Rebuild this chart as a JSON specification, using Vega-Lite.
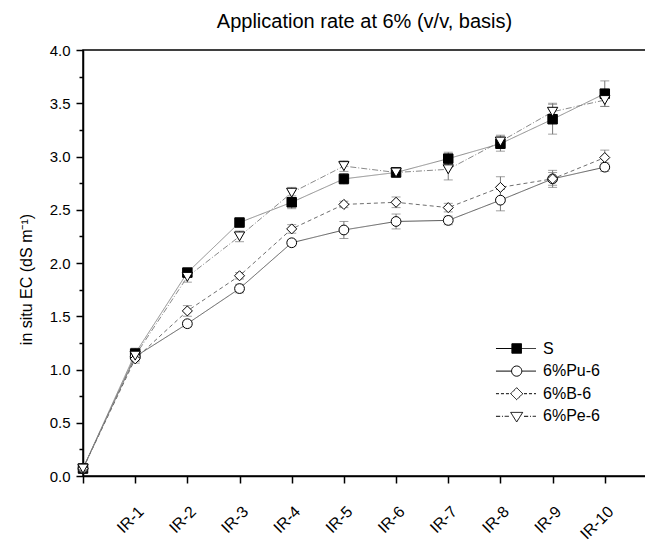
{
  "$schema": "https://vega.github.io/schema/vega-lite/v6.json",
  "width": 563,
  "height": 426,
  "autosize": {"type": "none"},
  "padding": {"left": 83, "top": 50, "right": 0, "bottom": 66},
  "background": "white",
  "config": {
    "font": "Liberation Sans",
    "view": {"stroke": "black", "strokeWidth": 1.5},
    "axis": {"grid": false, "domainColor": "black", "domainWidth": 1.5, "tickColor": "black", "tickWidth": 1.5, "labelColor": "black", "labelFont": "Liberation Sans", "titleFont": "Liberation Sans", "titleColor": "black", "titleFontWeight": "normal"}
  },
  "title": {"text": "Application rate at 6% (v/v, basis)", "fontSize": 20, "fontWeight": "normal", "font": "Liberation Sans", "color": "black", "anchor": "middle", "frame": "group", "baseline": "alphabetic", "offset": -5},
  "data": {"values": [
    {"step": 0, "series": "S", "value": 0.07, "err": 0.02},
    {"step": 1, "series": "S", "value": 1.15, "err": 0.05},
    {"step": 2, "series": "S", "value": 1.91, "err": 0.04},
    {"step": 3, "series": "S", "value": 2.38, "err": 0.03},
    {"step": 4, "series": "S", "value": 2.57, "err": 0.06},
    {"step": 5, "series": "S", "value": 2.79, "err": 0.05},
    {"step": 6, "series": "S", "value": 2.85, "err": 0.04},
    {"step": 7, "series": "S", "value": 2.98, "err": 0.06},
    {"step": 8, "series": "S", "value": 3.12, "err": 0.07},
    {"step": 9, "series": "S", "value": 3.35, "err": 0.14},
    {"step": 10, "series": "S", "value": 3.59, "err": 0.12},
    {"step": 0, "series": "6%Pu-6", "value": 0.07, "err": 0.02},
    {"step": 1, "series": "6%Pu-6", "value": 1.12, "err": 0.04},
    {"step": 2, "series": "6%Pu-6", "value": 1.43, "err": 0.03},
    {"step": 3, "series": "6%Pu-6", "value": 1.76, "err": 0.04},
    {"step": 4, "series": "6%Pu-6", "value": 2.19, "err": 0.03},
    {"step": 5, "series": "6%Pu-6", "value": 2.31, "err": 0.08},
    {"step": 6, "series": "6%Pu-6", "value": 2.39, "err": 0.07},
    {"step": 7, "series": "6%Pu-6", "value": 2.40, "err": 0.04},
    {"step": 8, "series": "6%Pu-6", "value": 2.59, "err": 0.10},
    {"step": 9, "series": "6%Pu-6", "value": 2.79, "err": 0.08},
    {"step": 10, "series": "6%Pu-6", "value": 2.90, "err": 0.04},
    {"step": 0, "series": "6%B-6", "value": 0.07, "err": 0.02},
    {"step": 1, "series": "6%B-6", "value": 1.10, "err": 0.04},
    {"step": 2, "series": "6%B-6", "value": 1.55, "err": 0.05},
    {"step": 3, "series": "6%B-6", "value": 1.88, "err": 0.03},
    {"step": 4, "series": "6%B-6", "value": 2.32, "err": 0.04},
    {"step": 5, "series": "6%B-6", "value": 2.55, "err": 0.03},
    {"step": 6, "series": "6%B-6", "value": 2.57, "err": 0.05},
    {"step": 7, "series": "6%B-6", "value": 2.52, "err": 0.04},
    {"step": 8, "series": "6%B-6", "value": 2.71, "err": 0.10},
    {"step": 9, "series": "6%B-6", "value": 2.79, "err": 0.06},
    {"step": 10, "series": "6%B-6", "value": 2.99, "err": 0.07},
    {"step": 0, "series": "6%Pe-6", "value": 0.07, "err": 0.02},
    {"step": 1, "series": "6%Pe-6", "value": 1.13, "err": 0.05},
    {"step": 2, "series": "6%Pe-6", "value": 1.87, "err": 0.05},
    {"step": 3, "series": "6%Pe-6", "value": 2.25, "err": 0.05},
    {"step": 4, "series": "6%Pe-6", "value": 2.66, "err": 0.05},
    {"step": 5, "series": "6%Pe-6", "value": 2.91, "err": 0.05},
    {"step": 6, "series": "6%Pe-6", "value": 2.85, "err": 0.04},
    {"step": 7, "series": "6%Pe-6", "value": 2.88, "err": 0.10},
    {"step": 8, "series": "6%Pe-6", "value": 3.14, "err": 0.06},
    {"step": 9, "series": "6%Pe-6", "value": 3.42, "err": 0.08},
    {"step": 10, "series": "6%Pe-6", "value": 3.53, "err": 0.06}
  ]},
  "encoding": {
    "x": {"field": "step", "type": "quantitative",
      "scale": {"domain": [0, 10.79], "nice": false, "zero": false},
      "axis": {"title": null, "values": [0,1,2,3,4,5,6,7,8,9,10], "labelExpr": "datum.value == 0 ? '' : 'IR-' + datum.value", "labelAngle": -45, "labelFontSize": 16, "tickSize": 7, "labelPadding": 20}},
    "y": {"field": "value", "type": "quantitative",
      "scale": {"domain": [0, 4], "nice": false},
      "axis": {"title": "in situ EC (dS m⁻¹)", "titleFontSize": 16, "titleX": -52, "titleY": 229, "titleAngle": -90, "titleAlign": "center", "titleBaseline": "alphabetic",
        "values": [0,0.25,0.5,0.75,1,1.25,1.5,1.75,2,2.25,2.5,2.75,3,3.25,3.5,3.75,4],
        "labelExpr": "round(datum.value*4)%2==0 ? format(datum.value,'.1f') : ''",
        "tickSize": {"condition": {"test": "round(datum.value*4)%2==0", "value": 7}, "value": 4},
        "labelFontSize": 15, "labelPadding": 6}}
  },
  "layer": [
    {
      "mark": {"type": "errorbar", "ticks": {"size": 9, "color": "#777777", "thickness": 1}, "rule": {"color": "#777777", "strokeWidth": 1}},
      "encoding": {"yError": {"field": "err"}}
    },
    {
      "mark": {"type": "line", "strokeWidth": 1},
      "encoding": {
        "color": {"field": "series", "type": "nominal", "legend": null, "scale": {"domain": ["S","6%Pu-6","6%B-6","6%Pe-6"], "range": ["#8c8c8c","#5a5a5a","#6e6e6e","#8a8a8a"]}},
        "strokeDash": {"field": "series", "type": "nominal", "legend": null, "scale": {"domain": ["S","6%Pu-6","6%B-6","6%Pe-6"], "range": [[1,0],[1,0],[4,3],[6,2,1,2]]}}
      }
    },
    {
      "mark": {"type": "point", "filled": true, "stroke": "black", "strokeWidth": 1},
      "encoding": {
        "shape": {"field": "series", "type": "nominal", "legend": null,
          "scale": {"domain": ["S","6%Pu-6","6%B-6","6%Pe-6"], "range": ["square","circle","diamond","triangle-down"]}},
        "fill": {"field": "series", "type": "nominal", "legend": null, "scale": {"domain": ["S","6%Pu-6","6%B-6","6%Pe-6"], "range": ["black","white","white","white"]}},
        "size": {"field": "series", "type": "nominal", "legend": null, "scale": {"domain": ["S","6%Pu-6","6%B-6","6%Pe-6"], "range": [90,106,135,135]}},
        "opacity": {"field": "series", "type": "nominal", "sort": ["S","6%Pu-6","6%B-6","6%Pe-6"], "scale": {"range": [1,1,1,1]},
          "legend": {"orient": "none", "legendX": 442, "legendY": 290.5, "title": null, "labelFontSize": 16, "labelColor": "black", "labelFont": "Liberation Sans", "symbolSize": 144, "labelOffset": 2, "rowPadding": 6.6, "symbolStrokeWidth": 1, "symbolOpacity": 1,
            "encoding": {"symbols": {
              "shape": {"value": {"expr": "datum.value === 'S' ? 'M-6.17,0H-3.52M-1.92,0H0.5M-3.52,-0.8H-1.92V0.8H-3.52Z' : datum.value === '6%Pu-6' ? 'M-6.17,0H-3.57M-1.87,0H0.5M-3.57,0A0.85,0.85 0 1,0 -1.87,0A0.85,0.85 0 1,0 -3.57,0Z' : datum.value === '6%B-6' ? 'M-6.17,0H-5.67M-5.34,0H-4.84M-4.51,0H-4.01M-1.5,0H-1M-0.67,0H-0.17M0.16,0H0.5M-3.72,0L-2.72,-1L-1.72,0L-2.72,1Z' : 'M-6.17,0H-5.47M-5.17,0H-5.02M-4.72,0H-4.02M-1.5,0H-0.8M-0.5,0H-0.35M-0.05,0H0.5M-3.72,-0.65H-1.72L-2.72,0.95Z'"}},
              "fill": {"value": {"expr": "datum.value === 'S' ? 'black' : 'white'"}},
              "fillOpacity": {"value": 1},
              "strokeOpacity": {"value": 1},
              "stroke": {"value": "black"},
              "strokeDash": {"value": [1, 0]},
              "strokeWidth": {"value": 1},
              "size": {"value": 144}
            }}}}
      }
    }
  ]
}
